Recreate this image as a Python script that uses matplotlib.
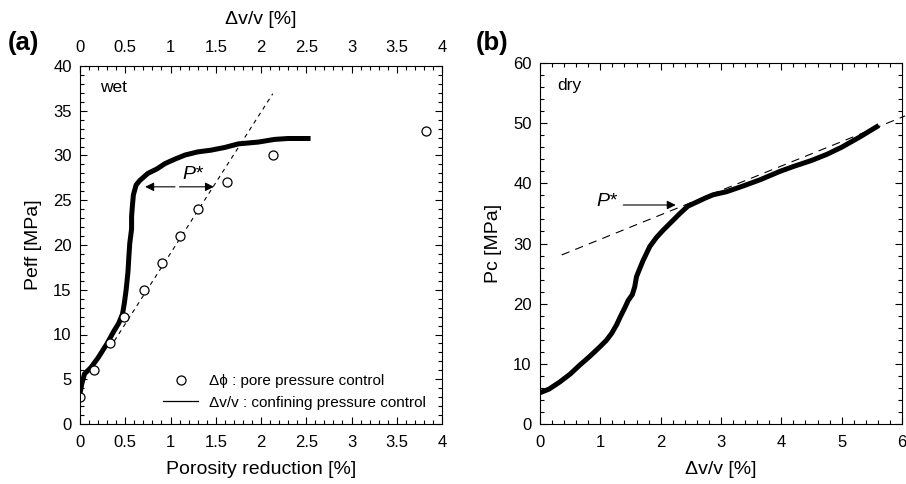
import numpy as np
import matplotlib
matplotlib.use("Agg")
import matplotlib.pyplot as plt
from matplotlib.ticker import MultipleLocator
from matplotlib.lines import Line2D

plt.rcParams['font.family'] = ['Liberation Sans', 'DejaVu Sans']
plt.rcParams['lines.scale_dashes'] = False

# panel (a): wet, porosity reduction from pore pressure control (circles)
wet_phi = [0.0, 0.15, 0.33, 0.49, 0.71, 0.91, 1.10, 1.30, 1.62, 2.13, 3.82]
wet_peff = [3, 6, 9, 12, 15, 18, 21, 24, 27, 30, 32.7]

# panel (a): volumetric strain under confining pressure control (line)
wet_dvv = [0.00, 0.02, 0.05, 0.12, 0.20, 0.30, 0.37, 0.43, 0.47, 0.49,
           0.51, 0.53, 0.54, 0.55, 0.57, 0.57, 0.58, 0.59, 0.62, 0.66, 0.75,
           0.85, 0.94, 1.05, 1.16, 1.30, 1.45, 1.60, 1.75, 1.97, 2.15, 2.30, 2.52]
wet_p = [3.4, 4.5, 5.6, 6.3, 7.4, 9.0, 10.3, 11.3, 12.3, 13.5,
         15.0, 17.0, 18.7, 20.2, 21.8, 23.2, 24.5, 25.6, 26.7, 27.2, 28.0,
         28.5, 29.1, 29.6, 30.05, 30.4, 30.6, 30.9, 31.3, 31.5, 31.8, 31.9, 31.9]

# dashed fit through circles
wet_fit_x = [0.33, 2.13]
wet_fit_y = [8.5, 36.9]

# panel (b): dry
dry_dvv = [0.00, 0.15, 0.33, 0.50, 0.66, 0.82, 0.99, 1.10, 1.19, 1.27, 1.33,
           1.40, 1.46, 1.53, 1.57, 1.60, 1.66, 1.71, 1.82, 1.93, 2.04, 2.18,
           2.32, 2.45, 2.60, 2.75, 2.87, 3.09, 3.35, 3.65, 3.98, 4.20, 4.50,
           4.75, 5.00, 5.30, 5.58]
dry_pc = [5.2, 5.8, 7.0, 8.3, 9.8, 11.2, 12.8, 13.9, 15.1, 16.5, 17.8,
          19.2, 20.5, 21.5, 22.8, 24.5, 26.0, 27.2, 29.5, 31.0, 32.2, 33.6,
          35.0, 36.2, 36.9, 37.6, 38.1, 38.6, 39.5, 40.6, 42.0, 42.8, 43.8,
          44.8, 46.0, 47.7, 49.4]

dry_fit_x = [0.36, 6.05]
dry_fit_y = [28.1, 51.2]


def style_axes(ax, xmaj, xmin, ymaj, ymin):
    ax.xaxis.set_major_locator(MultipleLocator(xmaj))
    ax.xaxis.set_minor_locator(MultipleLocator(xmin))
    ax.yaxis.set_major_locator(MultipleLocator(ymaj))
    ax.yaxis.set_minor_locator(MultipleLocator(ymin))
    ax.tick_params(which='both', direction='in', top=True, right=True, width=0.8)
    ax.tick_params(which='major', length=5, labelsize=12)
    ax.tick_params(which='minor', length=3)
    ax.tick_params(axis='x', which='major', pad=8)
    ax.tick_params(axis='y', which='major', pad=6)
    for s in ax.spines.values():
        s.set_linewidth(0.8)


fig = plt.figure(figsize=(9.06, 4.84), dpi=100)
ax1 = fig.add_axes([80 / 906, 1 - 424 / 484, 362 / 906, 358 / 484])
ax2 = fig.add_axes([540 / 906, 1 - 424 / 484, 362 / 906, 361 / 484])

# ---- (a)
ax1.plot(wet_dvv, wet_p, color='black', lw=3.6, solid_joinstyle='miter')
ax1.plot(wet_fit_x, wet_fit_y, color='black', lw=0.8, linestyle=(0, (3, 3)))
ax1.plot(wet_phi, wet_peff, 'o', mfc='white', mec='black', ms=6.5, mew=0.9)
ax1.set_xlim(0, 4)
ax1.set_ylim(0, 40)
style_axes(ax1, 0.5, 0.1, 5, 1)
ax1.xaxis.set_major_formatter(plt.FuncFormatter(lambda v, p: f"{v:g}"))
ax1.tick_params(labeltop=True)
ax1.set_xlabel('Porosity reduction [%]', fontsize=14, labelpad=8)
ax1.set_ylabel('Peff [MPa]', fontsize=14, labelpad=8)
ax1.text(0.5, 1.13, 'Δv/v [%]', transform=ax1.transAxes, ha='center',
         va='center', fontsize=14)
ax1.text(0.22, 37.6, 'wet', fontsize=12.5, va='center')

ax1.annotate('', xy=(0.72, 26.5), xytext=(1.05, 26.5),
             arrowprops=dict(arrowstyle='-|>', color='black', lw=0.8,
                             mutation_scale=13, shrinkA=0, shrinkB=0))
ax1.annotate('', xy=(1.48, 26.5), xytext=(1.10, 26.5),
             arrowprops=dict(arrowstyle='-|>', color='black', lw=0.8,
                             mutation_scale=13, shrinkA=0, shrinkB=0))
ax1.text(1.25, 27.9, 'P*', fontsize=14, style='italic', ha='center', va='center')

handles = [Line2D([], [], marker='o', ls='none', mfc='white', mec='black',
                  ms=6.5, mew=0.9),
           Line2D([], [], color='black', lw=0.9)]
ax1.legend(handles, ['Δϕ : pore pressure control',
                     'Δv/v : confining pressure control'],
           loc='lower right', bbox_to_anchor=(0.955, 0.04), frameon=False,
           fontsize=11, borderpad=0, borderaxespad=0, handlelength=2.3,
           handletextpad=0.7, labelspacing=0.5)

# ---- (b)
ax2.plot(dry_dvv, dry_pc, color='black', lw=3.6, solid_joinstyle='miter')
ax2.plot(dry_fit_x, dry_fit_y, color='black', lw=0.8, linestyle=(0, (6, 4.5)),
         clip_on=False)
ax2.set_xlim(0, 6)
ax2.set_ylim(0, 60)
style_axes(ax2, 1, 0.2, 10, 2)
ax2.set_xlabel('Δv/v [%]', fontsize=14, labelpad=8)
ax2.set_ylabel('Pc [MPa]', fontsize=14, labelpad=8)
ax2.text(0.28, 56.3, 'dry', fontsize=12.5, va='center')
ax2.annotate('', xy=(2.25, 36.4), xytext=(1.38, 36.4),
             arrowprops=dict(arrowstyle='-|>', color='black', lw=0.8,
                             mutation_scale=13, shrinkA=0, shrinkB=0))
ax2.text(1.1, 37.0, 'P*', fontsize=14, style='italic', ha='center', va='center')

fig.text(23 / 906, 1 - 43 / 484, '(a)', fontsize=18.5, fontweight='bold',
         ha='center', va='center')
fig.text(492 / 906, 1 - 43 / 484, '(b)', fontsize=18.5, fontweight='bold',
         ha='center', va='center')

fig.savefig('out.png', dpi=100)
